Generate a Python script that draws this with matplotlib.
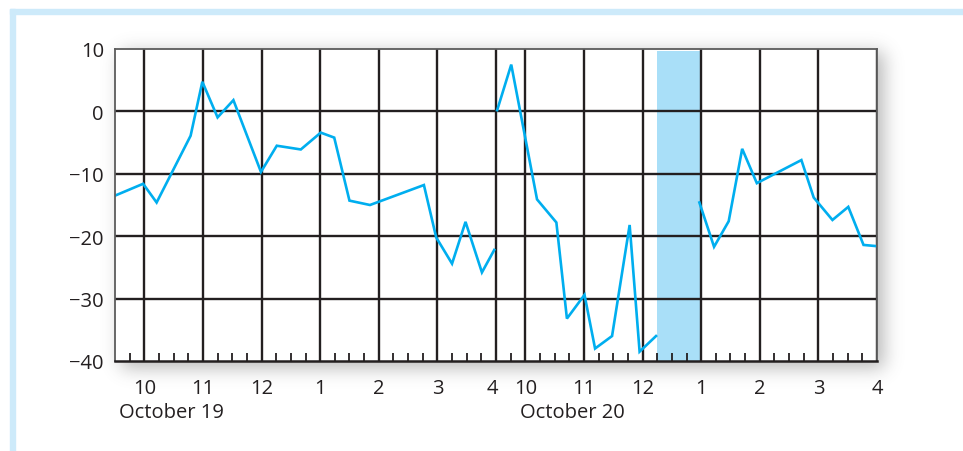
import numpy as np
import matplotlib
matplotlib.use("Agg")
import matplotlib.pyplot as plt
import matplotlib.transforms as mtransforms
from matplotlib.patches import Rectangle

plt.rcParams['font.family'] = ['Open Sans', 'DejaVu Sans']

# ---------------- data (clock hours, 24h) ----------------
day1_times = [9.50, 9.98, 10.21, 10.79, 10.99, 11.25, 11.52, 11.99, 12.26, 12.67,
              13.01, 13.24, 13.50, 13.85, 14.77, 14.98, 15.25, 15.48, 15.76, 15.97]
day1_values = [-13.5, -11.6, -14.6, -3.9, 4.75, -0.96, 1.8, -9.7, -5.5, -6.1,
               -3.4, -4.2, -14.3, -15.0, -11.8, -20.2, -24.4, -17.7, -25.8, -22.2]

day2a_times = [9.52, 9.76, 10.20, 10.53, 10.71, 11.01, 11.19, 11.48, 11.78, 11.95, 12.23]
day2a_values = [0.2, 7.5, -14.1, -17.8, -33.2, -29.4, -38.0, -36.0, -18.2, -38.5, -36.0]

day2b_times = [12.97, 13.22, 13.47, 13.70, 13.95, 14.71, 14.92, 15.24, 15.51, 15.77, 16.00]
day2b_values = [-14.6, -21.7, -17.6, -6.0, -11.5, -7.8, -13.8, -17.4, -15.3, -21.4, -21.6]

halt_start, halt_end = 12.25, 13.0          # day 2 shaded interval
hour_clock = [10, 11, 12, 13, 14, 15, 16]
hour_labels = ['10', '11', '12', '1', '2', '3', '4']
day_labels = ['October 19', 'October 20']
y_ticks = [10, 0, -10, -20, -30, -40]
y_labels = ['10', '0', '\u221210', '\u221220', '\u221230', '\u221240']

OPEN, CLOSE = 9.5, 16.0
SESSION = CLOSE - OPEN


def pos(clock, day):
    return np.asarray(clock, dtype=float) - OPEN + day * SESSION


# ---------------- figure ----------------
W, H, DPI = 963, 452, 100
FS = 14.5
fig = plt.figure(figsize=(W / DPI, H / DPI), dpi=DPI)
fig.patch.set_facecolor('white')

L, R, T, B = 115, 877, 50, 362
ax = fig.add_axes([L / W, 1 - B / H, (R - L) / W, (B - T) / H], zorder=2)
ax.set_facecolor('white')

# drop shadow behind the plot box
def box1d(n, a, b, sigma):
    arr = np.zeros(n)
    arr[a:b] = 1.0
    k = np.arange(-4 * sigma, 4 * sigma + 1)
    ker = np.exp(-0.5 * (k / sigma) ** 2)
    ker /= ker.sum()
    return np.convolve(arr, ker, mode='same')

fx = box1d(W, L + 6, R + 7, 9)
fy = box1d(H, T + 3, B + 7, 9)
alpha = np.outer(fy, fx) * 0.42
img = np.zeros((H, W, 4))
img[..., 0:3] = 0.35
img[..., 3] = alpha
fig.figimage(img, xo=0, yo=0, origin='upper', zorder=0)

# light blue frame
frame_c = '#cdeafa'
fig.patches.append(Rectangle((9.5 / W, 1 - 15 / H), 1 - 9.5 / W, 5.5 / H,
                             transform=fig.transFigure, color=frame_c, zorder=1))
fig.patches.append(Rectangle((9.5 / W, 0), 5.5 / W, 1 - 9.5 / H,
                             transform=fig.transFigure, color=frame_c, zorder=1))

line_c = '#00aeef'
grid_c = '#231f20'

ax.set_xlim(0, 2 * SESSION)
ax.set_ylim(-40, 10)

# shaded band
ax.axvspan(pos(halt_start, 1), pos(halt_end, 1), ymax=0.995,
           color='#a9dff8', zorder=1, lw=0)

# grid
hour_pos = np.concatenate([pos(hour_clock, 0), pos(hour_clock, 1)])
for xp in hour_pos:
    ax.axvline(xp, color=grid_c, lw=1.7, zorder=2)
for yv in y_ticks[1:-1]:
    ax.axhline(yv, color=grid_c, lw=1.7, zorder=2)

# data
for tt, vv, d in [(day1_times, day1_values, 0),
                  (day2a_times, day2a_values, 1),
                  (day2b_times, day2b_values, 1)]:
    ax.plot(pos(tt, d), vv, color=line_c, lw=1.9, zorder=3,
            solid_joinstyle='miter', clip_on=True)

# ticks
ax.set_yticks(y_ticks)
ax.set_yticklabels(y_labels)
ax.tick_params(axis='y', length=0, pad=8, labelsize=FS, labelcolor=grid_c)

ax.set_xticks(hour_pos)
ax.set_xticklabels(hour_labels * 2)
ax.tick_params(axis='x', which='major', length=0, pad=12, labelsize=FS,
               labelcolor=grid_c)
quarters = np.arange(0.25, 2 * SESSION, 0.25)
minor = [q for q in quarters if np.min(np.abs(hour_pos - q)) > 1e-6]
ax.set_xticks(minor, minor=True)
ax.tick_params(axis='x', which='minor', direction='in', length=5.5, width=1.3,
               color=grid_c, bottom=True)

# nudge the last label of day 1 left
lbls = ax.get_xticklabels()
off = mtransforms.ScaledTranslation(-4 / DPI, 0, fig.dpi_scale_trans)
lbls[len(hour_clock) - 1].set_transform(lbls[len(hour_clock) - 1].get_transform() + off)

for sp in ['left', 'top', 'right']:
    ax.spines[sp].set_color('#5c5c5c')
    ax.spines[sp].set_linewidth(1.3)
ax.spines['bottom'].set_color(grid_c)
ax.spines['bottom'].set_linewidth(1.8)
for sp in ax.spines.values():
    sp.set_zorder(4)

# date labels
ax.text(0.0055, -0.165, day_labels[0], transform=ax.transAxes, fontsize=FS,
        color=grid_c, ha='left', va='center')
ax.text(0.531, -0.165, day_labels[1], transform=ax.transAxes, fontsize=FS,
        color=grid_c, ha='left', va='center')

fig.savefig('out.png', dpi=DPI, facecolor='white')
